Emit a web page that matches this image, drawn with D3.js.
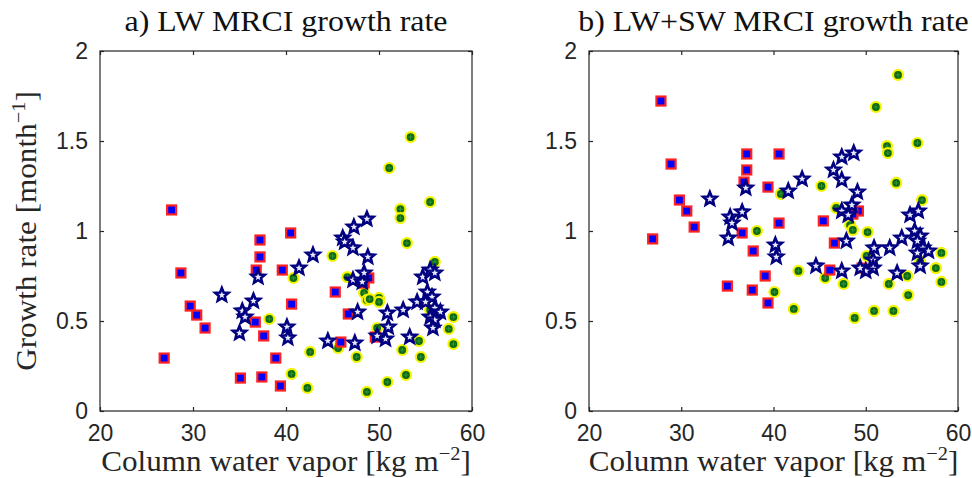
<!DOCTYPE html>
<html><head><meta charset="utf-8">
<script src="https://cdn.jsdelivr.net/npm/d3@7"></script>
<style>body{margin:0;background:#fff}svg{display:block}</style>
</head><body>
<svg id="c" width="972" height="478"></svg>
<script>
const xTicks = [20, 30, 40, 50, 60];
const yTicks = [0, 0.5, 1, 1.5, 2];
const yTickLabels = ["0", "0.5", "1", "1.5", "2"];
const titles = ["a) LW MRCI growth rate", "b) LW+SW MRCI growth rate"];

// Panel a: LW growth rate
const aSquares = [[27.7,1.117],[26.9,0.294],[28.7,0.767],[29.7,0.583],[30.4,0.533],[31.3,0.461],[35.1,0.183],[37.4,0.189],[36.7,0.494],[37.6,0.417],[37.2,0.95],[37.2,0.856],[36.8,0.783],[38.9,0.294],[39.4,0.139],[39.6,0.783],[40.5,0.989],[40.6,0.594],[45.3,0.661],[46.7,0.539],[45.9,0.383],[48.9,0.739],[48.4,0.711],[49.6,0.411]];
const aCircles = [[53.4,1.522],[51.1,1.35],[55.5,1.161],[52.3,1.122],[52.3,1.072],[53.0,0.933],[45.0,0.861],[56.0,0.828],[40.8,0.739],[46.6,0.744],[48.4,0.656],[48.7,0.617],[50.0,0.628],[50.0,0.606],[58.0,0.522],[57.5,0.456],[58.0,0.372],[54.3,0.389],[52.5,0.339],[54.5,0.30],[49.8,0.461],[45.6,0.35],[42.6,0.328],[47.6,0.30],[40.6,0.206],[42.3,0.128],[48.7,0.106],[50.9,0.161],[52.9,0.20],[38.2,0.511],[55.5,0.561],[49.0,0.622]];
const aStars = [[33.1,0.644],[35.3,0.556],[35.6,0.522],[36.5,0.611],[35.0,0.433],[37.0,0.744],[40.1,0.467],[40.2,0.406],[41.4,0.794],[42.9,0.867],[46.1,0.961],[46.3,0.939],[47.2,0.906],[47.3,1.022],[48.7,1.067],[48.8,0.856],[47.2,0.728],[48.2,0.717],[48.4,0.767],[47.7,0.55],[50.9,0.544],[51.0,0.467],[50.7,0.40],[49.8,0.417],[52.6,0.561],[54.1,0.606],[53.3,0.411],[44.5,0.389],[47.4,0.378],[54.7,0.744],[55.5,0.783],[56.0,0.767],[55.2,0.661],[55.7,0.633],[55.0,0.606],[56.0,0.572],[56.6,0.55],[55.5,0.522],[56.0,0.506],[55.8,0.461]];

// Panel b: LW+SW growth rate
const bSquares = [[27.8,1.722],[28.9,1.372],[29.8,1.172],[30.6,1.111],[31.4,1.022],[26.9,0.956],[37.1,1.428],[37.1,1.339],[36.8,1.272],[39.4,1.244],[36.6,0.989],[40.6,1.428],[40.6,1.044],[37.8,0.889],[39.1,0.75],[35.0,0.694],[37.7,0.672],[39.4,0.60],[45.4,1.056],[46.6,0.933],[46.1,0.783],[49.6,0.794],[49.2,1.111],[48.6,1.094]];
const bCircles = [[38.2,1.0],[40.1,0.661],[53.5,1.867],[51.1,1.689],[52.3,1.472],[52.4,1.433],[55.6,1.489],[53.3,1.267],[45.2,1.25],[40.8,1.206],[56.1,1.172],[46.8,1.128],[48.3,1.033],[48.6,1.006],[50.2,0.994],[50.1,0.861],[42.7,0.778],[45.6,0.739],[47.6,0.706],[42.2,0.567],[48.8,0.517],[50.9,0.556],[53.0,0.556],[52.5,0.706],[54.5,0.75],[54.6,0.644],[55.9,0.828],[57.6,0.794],[58.2,0.878],[58.2,0.717]];
const bStars = [[33.1,1.178],[37.0,1.239],[36.6,1.106],[35.3,1.078],[35.5,1.044],[35.1,0.961],[40.2,0.922],[40.3,0.856],[48.7,1.433],[47.4,1.411],[46.5,1.339],[47.4,1.283],[49.1,1.217],[43.1,1.289],[41.6,1.222],[48.5,1.144],[47.4,1.111],[48.1,1.089],[54.8,1.089],[55.7,1.111],[55.3,1.0],[55.9,0.972],[55.6,0.944],[53.9,0.961],[56.2,0.906],[56.8,0.889],[55.6,0.878],[55.9,0.806],[47.9,0.944],[44.6,0.806],[47.4,0.778],[50.9,0.906],[52.6,0.906],[50.8,0.839],[50.8,0.794],[50.0,0.778],[49.4,0.794],[53.4,0.767]];

const svg = d3.select("#c");
const panels = [
  {left: 100, right: 472, top: 51, bottom: 411, squares: aSquares, circles: aCircles, stars: aStars, title: titles[0]},
  {left: 589, right: 958, top: 51, bottom: 411, squares: bSquares, circles: bCircles, stars: bStars, title: titles[1]}
];

const axisColor = "#262626";
const serif = "'Liberation Serif', 'Times New Roman', serif";
const titleStretch = 1.1, labelStretch = 1.075;
const starPath = (() => {
  const R = 7, r = 3.1, pts = [];
  for (let i = 0; i < 10; i++) {
    const a = -Math.PI / 2 + i * Math.PI / 5;
    const rr = i % 2 === 0 ? R : r;
    pts.push([rr * Math.cos(a), rr * Math.sin(a)]);
  }
  return "M" + pts.map(p => p[0].toFixed(2) + "," + p[1].toFixed(2)).join("L") + "Z";
})();

panels.forEach((p, i) => {
  const x = d3.scaleLinear().domain([20, 60]).range([p.left, p.right]);
  const y = d3.scaleLinear().domain([0, 2]).range([p.bottom, p.top]);
  const g = svg.append("g");
  const tl = 4;

  g.append("rect").attr("x", p.left).attr("y", p.top)
    .attr("width", p.right - p.left).attr("height", p.bottom - p.top)
    .attr("fill", "none").attr("stroke", axisColor).attr("stroke-width", 1.2);

  const xb = d3.axisBottom(x).tickValues(xTicks).tickSize(-tl).tickPadding(14).tickFormat(d3.format("d"));
  const xt = d3.axisTop(x).tickValues(xTicks).tickSize(-tl).tickFormat("");
  const yl = d3.axisLeft(y).tickValues(yTicks).tickSize(-tl).tickPadding(12).tickFormat((d, j) => yTickLabels[j]);
  const yr = d3.axisRight(y).tickValues(yTicks).tickSize(-tl).tickFormat("");
  const axes = [
    g.append("g").attr("transform", `translate(0,${p.bottom})`).call(xb),
    g.append("g").attr("transform", `translate(0,${p.top})`).call(xt),
    g.append("g").attr("transform", `translate(${p.left},0)`).call(yl),
    g.append("g").attr("transform", `translate(${p.right},0)`).call(yr)
  ];
  axes.forEach(a => {
    a.select(".domain").remove();
    a.selectAll(".tick line").attr("stroke", axisColor).attr("stroke-width", 1.2);
    a.selectAll(".tick text").attr("fill", "#262626")
      .style("font-family", "'Liberation Sans', Arial, sans-serif").style("font-size", "23px");
  });

  g.append("text").attr("transform", `translate(${(p.left + p.right) / 2},31) scale(${titleStretch},1)`)
    .attr("text-anchor", "middle").attr("fill", "#111")
    .style("font-family", serif).style("font-size", "29px")
    .text(p.title);

  const xl = g.append("text").attr("transform", `translate(${(p.left + p.right) / 2},471) scale(${labelStretch},1)`)
    .attr("text-anchor", "middle").attr("fill", "#262626")
    .style("font-family", serif).style("font-size", "29px");
  xl.append("tspan").text("Column water vapor [kg m");
  xl.append("tspan").attr("dy", -11).style("font-size", "19px").text("\u22122");
  xl.append("tspan").attr("dy", 11).text("]");

  if (i === 0) {
    const ylab = g.append("text").attr("transform", `translate(36,${(p.top + p.bottom) / 2}) rotate(-90) scale(${labelStretch},1)`)
      .attr("text-anchor", "middle").attr("fill", "#262626")
      .style("font-family", serif).style("font-size", "29px");
    ylab.append("tspan").text("Growth rate [month");
    ylab.append("tspan").attr("dy", -11).style("font-size", "19px").text("\u22121");
    ylab.append("tspan").attr("dy", 11).text("]");
  }

  const cg = g.append("g").selectAll("g").data(p.circles).join("g")
    .attr("transform", d => `translate(${x(d[0])},${y(d[1])})`);
  cg.append("circle").attr("r", 5)
    .attr("fill", "#0b6a12").attr("stroke", "#f4f400").attr("stroke-width", 2.2);
  cg.append("path").attr("d", "M-2.5,0H2.5M0,-2.5V2.5")
    .attr("stroke", "#3f9a45").attr("stroke-width", 0.8);

  g.append("g").selectAll("rect").data(p.squares).join("rect")
    .attr("x", d => x(d[0]) - 4.5).attr("y", d => y(d[1]) - 4.5).attr("width", 9).attr("height", 9)
    .attr("fill", "#0000ff").attr("stroke", "#ff2020").attr("stroke-width", 2.2);

  g.append("g").selectAll("path").data(p.stars).join("path")
    .attr("transform", d => `translate(${x(d[0])},${y(d[1])})`).attr("d", starPath)
    .attr("fill", "#e8e8ff").attr("stroke", "#000080").attr("stroke-width", 2.6).attr("stroke-linejoin", "miter");
});
</script>
</body></html>
